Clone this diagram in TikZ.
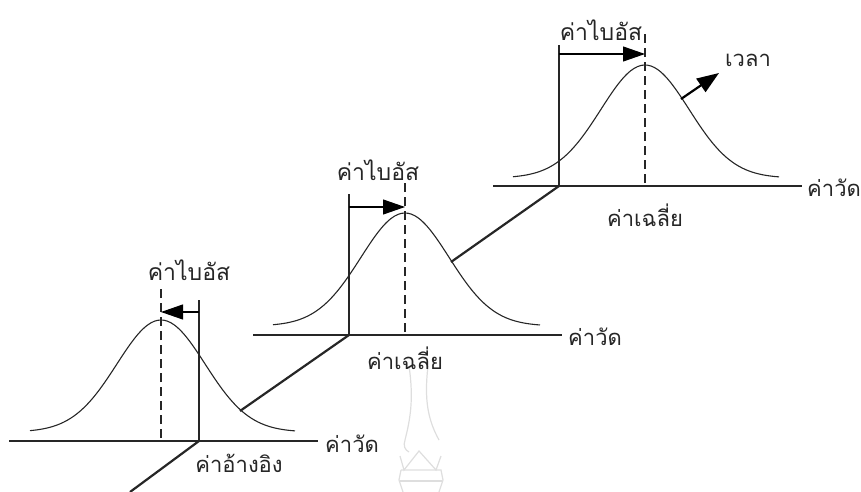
\documentclass[tikz,border=0pt]{standalone}
\usepackage{fontspec}
\newfontfamily\thaifont[Script=Thai]{Loma}
\usetikzlibrary{arrows.meta}
\tikzset{
  axisline/.style={line width=1.3pt,black!85},
  refline/.style={line width=2.2pt,black!85},
  bell/.style={line width=1.1pt,black!85},
  meanline/.style={dash pattern=on 9pt off 5pt,line width=1.1pt,black!85},
  biasarrow/.style={line width=1.1pt,-{Triangle[length=22pt,width=15pt]}},
  thaitext/.style={font=\thaifont\fontsize{22}{22}\selectfont,inner sep=0pt,text=black!85},
  biastext/.style={font=\thaifont\fontsize{23}{23}\selectfont,inner sep=0pt,text=black!85},
  sealline/.style={draw=black!13,line width=1.2pt}
}
\begin{document}
\begin{tikzpicture}[x=1pt,y=-1pt]
\useasboundingbox (0,0) rectangle (861,492);
% faint seal behind the lower labels
\draw[sealline] (409,366) .. controls (414,400) and (410,420) .. (405,440) .. controls (403,446) and (405,450) .. (409,452);
\draw[sealline] (428,366) .. controls (424,400) and (428,420) .. (439,440);
\draw[sealline] (400,456) -- (404,470) -- (419,451) -- (436,470) -- (441,456);
\draw[sealline] (401,470) -- (441,470) -- (443,480) -- (439,492);
\draw[sealline] (401,470) -- (399,480) -- (403,492);
\draw[sealline] (400,481) -- (442,481);
% first curve, mean left of reference
\coordinate (ao) at (199,441);
\coordinate (al) at (9,441);
\coordinate (ar) at (318,441);
\coordinate (at) at (199,300);
\coordinate (am) at (161,438);
\coordinate (amt) at (161,285);
\coordinate (ab) at (130,492);
\coordinate (as) at (240,411);
\draw[axisline] (al) -- (ar);
\draw[refline] (ao) -- (at);
\draw[meanline] (am) -- (amt);
\draw[bell] plot[domain=30:295,samples=80,smooth] (\x,{432-112*exp(-((\x-161)/62.4)^2)});
\coordinate (aa) at (199,312);
\coordinate (ac) at (161,312);
\draw[biasarrow] (aa) -- (ac);
\draw[refline] (ao) -- (ab);
% second curve
\coordinate (bo) at (349,335);
\coordinate (bl) at (253,335);
\coordinate (br) at (562,335);
\coordinate (bt) at (349,194);
\coordinate (bm) at (405,332);
\coordinate (bmt) at (405,180);
\coordinate (bs) at (451,262);
\draw[axisline] (bl) -- (br);
\draw[refline] (bo) -- (bt);
\draw[meanline] (bm) -- (bmt);
\draw[bell] plot[domain=273:540,samples=80,smooth] (\x,{326-113*exp(-((\x-405)/62.4)^2)});
\coordinate (ba) at (349,207);
\coordinate (bc) at (405,207);
\draw[biasarrow] (ba) -- (bc);
\draw[refline] (bo) -- (as);
% third curve
\coordinate (co) at (559,186);
\coordinate (cl) at (493,186);
\coordinate (cr) at (802,186);
\coordinate (ct) at (559,45);
\coordinate (cm) at (645,183);
\coordinate (cmt) at (645,30);
\draw[axisline] (cl) -- (cr);
\draw[refline] (co) -- (ct);
\draw[meanline] (cm) -- (cmt);
\draw[bell] plot[domain=513:779,samples=80,smooth] (\x,{178-113*exp(-((\x-645)/62.4)^2)});
\coordinate (ca) at (559,54);
\coordinate (cc) at (645,54);
\draw[biasarrow] (ca) -- (cc);
\draw[refline] (co) -- (bs);
% time direction
\coordinate (ts) at (681,99);
\coordinate (te) at (719,73);
\draw[line width=2.2pt,-{Triangle[length=22pt,width=16pt]}] (ts) -- (te);
% labels
\node[biastext] (biasa) at (189,270) {ค่าไบอัส};
\node[biastext] (biasb) at (378,170) {ค่าไบอัส};
\node[biastext] (biasc) at (601,30) {ค่าไบอัส};
\node[thaitext,anchor=west] (vala) at (325,444) {ค่าวัด};
\node[thaitext,anchor=west] (valb) at (568,337) {ค่าวัด};
\node[thaitext,anchor=west] (valc) at (807,188) {ค่าวัด};
\node[thaitext] (refa) at (239,463) {ค่าอ้างอิง};
\node[thaitext] (meanb) at (405,358) {ค่าเฉลี่ย};
\node[thaitext] (meanc) at (645,215) {ค่าเฉลี่ย};
\node[thaitext,anchor=west] (timec) at (725,60) {เวลา};
\end{tikzpicture}
\end{document}
